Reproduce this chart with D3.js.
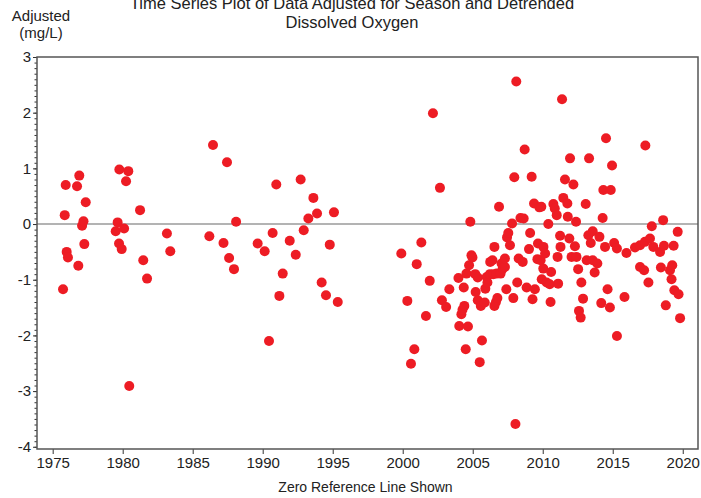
<!DOCTYPE html>
<html>
<head>
<meta charset="utf-8">
<script src="https://cdn.jsdelivr.net/npm/d3@7"></script>
<style>
  body { margin: 0; background: #fff; }
  svg { font-family: "Liberation Sans", Arial, sans-serif; }
</style>
</head>
<body>
<svg id="chart" width="701" height="498"></svg>
<script>
// decimal year of each sample
const years = [
  1975.74, 1975.86, 1975.93, 1976.00, 1976.09, 1976.74, 1976.83, 1976.90, 1977.10, 1977.20, 1977.26, 1977.36,
  1979.50, 1979.64, 1979.74, 1979.76, 1979.93, 1980.10, 1980.24, 1980.40, 1980.47, 1981.24, 1981.47, 1981.74,
  1983.16, 1983.40, 1986.19, 1986.45, 1987.20, 1987.45, 1987.60, 1987.95, 1988.10, 1989.64, 1990.14, 1990.45,
  1990.71, 1990.97, 1991.19, 1991.43, 1991.93, 1992.36, 1992.71, 1992.93, 1993.26, 1993.62, 1993.88, 1994.21,
  1994.52, 1994.79, 1995.09, 1995.36, 1999.90, 2000.33, 2000.59, 2000.83, 2001.00, 2001.33, 2001.66, 2001.93,
  2002.16, 2002.66, 2002.80, 2003.10, 2003.33, 2003.98, 2004.04, 2004.19, 2004.27, 2004.36, 2004.40, 2004.50,
  2004.55, 2004.66, 2004.74, 2004.83, 2004.91, 2004.98, 2005.18, 2005.21, 2005.36, 2005.36, 2005.50, 2005.58,
  2005.66, 2005.86, 2005.90, 2006.00, 2006.05, 2006.23, 2006.25, 2006.41, 2006.47, 2006.55, 2006.55, 2006.66,
  2006.71, 2006.76, 2006.88, 2006.99, 2007.06, 2007.14, 2007.30, 2007.30, 2007.40, 2007.45, 2007.54, 2007.66,
  2007.81, 2007.90, 2007.97, 2008.05, 2008.11, 2008.18, 2008.28, 2008.41, 2008.57, 2008.64, 2008.71, 2008.85,
  2009.02, 2009.10, 2009.21, 2009.27, 2009.38, 2009.44, 2009.62, 2009.66, 2009.76, 2009.85, 2009.90, 2009.93,
  2010.04, 2010.05, 2010.17, 2010.28, 2010.40, 2010.50, 2010.56, 2010.60, 2010.76, 2010.86, 2011.00, 2011.06,
  2011.10, 2011.24, 2011.27, 2011.38, 2011.47, 2011.59, 2011.76, 2011.79, 2011.90, 2011.95, 2012.06, 2012.19,
  2012.30, 2012.38, 2012.41, 2012.53, 2012.59, 2012.71, 2012.76, 2012.88, 2013.07, 2013.14, 2013.26, 2013.31,
  2013.43, 2013.57, 2013.57, 2013.71, 2013.90, 2014.05, 2014.18, 2014.28, 2014.33, 2014.45, 2014.52, 2014.63,
  2014.80, 2014.86, 2014.95, 2015.10, 2015.30, 2015.30, 2015.84, 2015.98, 2016.59, 2016.95, 2016.95, 2017.24,
  2017.30, 2017.33, 2017.55, 2017.66, 2017.79, 2017.90, 2018.38, 2018.44, 2018.60, 2018.66, 2018.79, 2019.09,
  2019.20, 2019.25, 2019.35, 2019.40, 2019.64, 2019.70, 2019.81
]

// adjusted dissolved oxygen (mg/L), same order as years
const adjusted = [
  -1.17, 0.16, 0.70, -0.50, -0.60, 0.68, -0.75, 0.87, -0.03, 0.05, -0.36, 0.39,
  -0.13, 0.03, -0.35, 0.98, -0.45, -0.08, 0.77, 0.95, -2.91, 0.25, -0.65, -0.98,
  -0.17, -0.49, -0.22, 1.42, -0.34, 1.11, -0.61, -0.81, 0.04, -0.35, -0.49, -2.10,
  -0.16, 0.71, -1.29, -0.89, -0.30, -0.55, 0.80, -0.11, 0.10, 0.47, 0.19, -1.05,
  -1.28, -0.37, 0.21, -1.40, -0.53, -1.38, -2.51, -2.25, -0.72, -0.33, -1.65, -1.02,
  1.99, 0.65, -1.37, -1.49, -1.17, -0.97, -1.83, -1.62, -1.54, -1.14, -1.47, -2.25,
  -0.89, -1.84, -0.74, 0.04, -0.56, -0.60, -0.90, -1.22, -0.96, -1.37, -2.48, -1.47,
  -2.09, -1.41, -1.16, -0.95, -1.05, -0.90, -0.68, -0.65, -0.90, -0.41, -1.47, -1.40,
  -0.89, -1.33, 0.31, -0.89, -0.71, -0.80, -0.77, -0.62, -1.17, -0.24, -0.16, -0.38,
  0.01, -1.33, 0.84, -3.59, 2.56, -1.05, -0.62, 0.11, -0.68, 0.10, 1.34, -1.14,
  -0.45, -0.16, 0.85, -1.35, 0.37, -1.17, -0.63, -0.35, 0.30, -0.65, 0.31, -0.99,
  -0.80, -0.41, -0.53, -1.05, 0.00, -1.08, -1.40, -0.86, 0.36, 0.28, 0.16, -0.59,
  -1.07, -0.21, -0.41, 2.24, 0.47, 0.80, 0.37, 0.13, -0.26, 1.18, -0.59, 0.71,
  -0.40, 0.04, -0.59, -0.81, -1.56, -1.68, -1.05, -1.34, 0.36, -0.65, -0.20, 1.18,
  -0.34, -0.13, -0.65, -0.87, -0.71, -0.23, -1.42, 0.11, 0.61, -0.41, 1.54, -1.17,
  -1.50, 0.61, 1.05, -0.34, -0.44, -2.01, -1.31, -0.52, -0.42, -0.38, -0.77, -0.83,
  -0.32, 1.41, -1.05, -0.26, -0.04, -0.41, -0.50, -0.78, 0.07, -0.39, -1.46, -0.83,
  -0.99, -0.74, -0.39, -1.19, -0.14, -1.26, -1.69
]

const xTicks = [1975, 1980, 1985, 1990, 1995, 2000, 2005, 2010, 2015, 2020]
const yTicks = [3, 2, 1, 0, -1, -2, -3, -4]
const titleLines = ["Time Series Plot of Data Adjusted for Season and Detrended", "Dissolved Oxygen"]
const yLabelLines = ["Adjusted", "(mg/L)"]
const xLabel = "Zero Reference Line Shown"

const margin = {top: 57, right: 3, bottom: 49, left: 37}
const width = 701 - margin.left - margin.right
const height = 498 - margin.top - margin.bottom

const svg = d3.select("#chart")

const xscale = d3.scaleLinear().domain([1973.88, 2021.09]).range([0, width])
const yscale = d3.scaleLinear().domain([-4.04, 3]).range([height, 0])

const points = years.map((yr, i) => ({year: yr, value: adjusted[i]}))

// title, partly clipped at the top like the original
svg.append("text")
  .attr("text-anchor", "middle")
  .attr("font-size", 16.5)
  .attr("fill", "#222")
  .selectAll("tspan")
  .data(titleLines)
  .join("tspan")
    .attr("x", 352)
    .attr("y", (d, i) => 9 + i * 19)
    .text(d => d)

svg.append("text")
  .attr("text-anchor", "middle")
  .attr("font-size", 15)
  .attr("fill", "#222")
  .selectAll("tspan")
  .data(yLabelLines)
  .join("tspan")
    .attr("x", 41)
    .attr("y", (d, i) => 21 + i * 17)
    .text(d => d)

svg.append("text")
  .attr("x", margin.left + width / 2 - 2)
  .attr("y", 492)
  .attr("text-anchor", "middle")
  .attr("font-size", 14)
  .attr("fill", "#222")
  .text(xLabel)

const g = svg.append("g").attr("transform", `translate(${margin.left},${margin.top})`)

// zero reference line
g.append("line")
  .attr("x1", 0).attr("x2", width)
  .attr("y1", yscale(0)).attr("y2", yscale(0))
  .attr("stroke", "#9a9a9a")
  .attr("stroke-width", 1.6)

// minor y ticks every 0.1
g.append("g")
  .call(d3.axisLeft(yscale).tickValues(d3.range(-40, 31).map(d => d / 10)).tickSize(2.5).tickFormat(""))
  .call(a => a.select(".domain").remove())
  .call(a => a.selectAll("line").attr("stroke", "#333"))

// major y ticks (plain hyphen for negatives, like the original)
g.append("g")
  .call(d3.axisLeft(yscale).tickValues(yTicks).tickSize(4).tickPadding(2).tickFormat(d => String(d)))
  .call(a => a.select(".domain").remove())
  .call(a => a.selectAll("line").attr("stroke", "#333"))
  .call(a => a.selectAll("text").attr("font-size", 15).attr("fill", "#222")
    .attr("font-family", "Liberation Sans, Arial, sans-serif"))

// x ticks
g.append("g")
  .attr("transform", `translate(0,${height})`)
  .call(d3.axisBottom(xscale).tickValues(xTicks).tickSize(5).tickPadding(3).tickFormat(d => String(d)))
  .call(a => a.select(".domain").remove())
  .call(a => a.selectAll("line").attr("stroke", "#333"))
  .call(a => a.selectAll("text").attr("font-size", 15).attr("fill", "#222")
    .attr("font-family", "Liberation Sans, Arial, sans-serif"))

// plot frame
g.append("rect")
  .attr("width", width).attr("height", height)
  .attr("fill", "none")
  .attr("stroke", "#555")
  .attr("stroke-width", 1.5)

g.append("g")
  .selectAll("circle")
  .data(points)
  .join("circle")
    .attr("cx", d => xscale(d.year))
    .attr("cy", d => yscale(d.value))
    .attr("r", 5)
    .attr("fill", "#ed1c24")
</script>
</body>
</html>
